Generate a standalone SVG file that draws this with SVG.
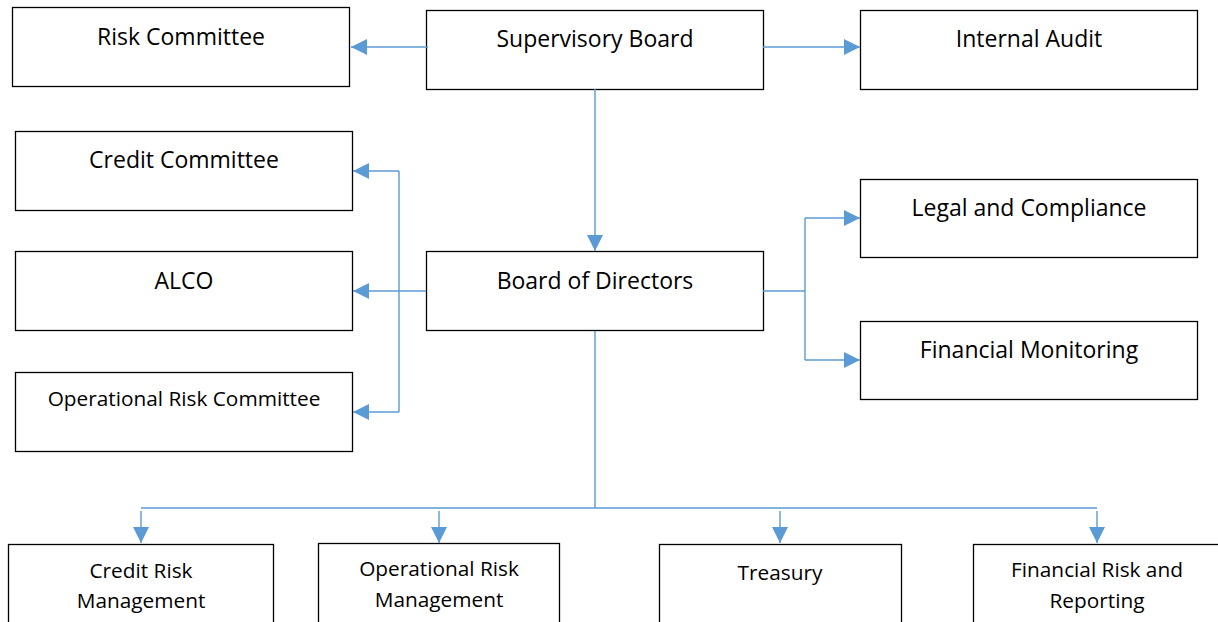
<svg xmlns="http://www.w3.org/2000/svg" width="1218" height="622" viewBox="0 0 1218 622">
<style>
.box{fill:#fff;stroke:#000;stroke-width:1.3}
.t{font-family:"Open Sans","Liberation Sans",sans-serif;font-size:23px;fill:#000;text-anchor:middle}
.s{font-size:20.8px}
.c{fill:none;stroke:#5B9BD5;stroke-width:1.4}
</style>
<defs>
<marker id="a" viewBox="0 0 16 16" refX="16" refY="8" markerWidth="16" markerHeight="16" markerUnits="userSpaceOnUse" orient="auto">
<path d="M0,0 L16,8 L0,16 Z" fill="#5B9BD5"/>
</marker>
</defs>
<rect width="1218" height="622" fill="#fff"/>
<g id="risk-committee"><rect class="box" x="12.5" y="7.5" width="337" height="79"/><text class="t" x="181" y="45">Risk Committee</text></g>
<g id="supervisory-board"><rect class="box" x="426.5" y="10.5" width="337" height="79"/><text class="t" x="595" y="47">Supervisory Board</text></g>
<g id="internal-audit"><rect class="box" x="860.5" y="10.5" width="337" height="79"/><text class="t" x="1029" y="47">Internal Audit</text></g>
<g id="credit-committee"><rect class="box" x="15.5" y="131.5" width="337" height="79"/><text class="t" x="184" y="168">Credit Committee</text></g>
<g id="alco"><rect class="box" x="15.5" y="251.5" width="337" height="79"/><text class="t" x="184" y="289">ALCO</text></g>
<g id="operational-risk-committee"><rect class="box" x="15.5" y="372.5" width="337" height="79"/><text class="t s" x="184" y="406">Operational Risk Committee</text></g>
<g id="board-of-directors"><rect class="box" x="426.5" y="251.5" width="337" height="79"/><text class="t" x="595" y="289">Board of Directors</text></g>
<g id="legal-and-compliance"><rect class="box" x="860.5" y="179.5" width="337" height="78"/><text class="t" x="1029" y="216">Legal and Compliance</text></g>
<g id="financial-monitoring"><rect class="box" x="860.5" y="321.5" width="337" height="78"/><text class="t" x="1029" y="358">Financial Monitoring</text></g>
<g id="credit-risk-management"><rect class="box" x="8.5" y="544.5" width="265" height="90"/><text class="t s" x="141" y="578">Credit Risk</text><text class="t s" x="141" y="608">Management</text></g>
<g id="operational-risk-management"><rect class="box" x="318.5" y="543.5" width="241" height="90"/><text class="t s" x="439" y="576">Operational Risk</text><text class="t s" x="439" y="607">Management</text></g>
<g id="treasury"><rect class="box" x="659.5" y="544.5" width="242" height="90"/><text class="t s" x="780" y="580">Treasury</text></g>
<g id="financial-risk-and-reporting"><rect class="box" x="973.5" y="544.5" width="250" height="90"/><text class="t s" x="1097" y="577">Financial Risk and</text><text class="t s" x="1097" y="608">Reporting</text></g>
<g id="connectors">
<path class="c" d="M428,47 H351" marker-end="url(#a)"/>
<path class="c" d="M763,47 H860" marker-end="url(#a)"/>
<path class="c" d="M595,89 V251" marker-end="url(#a)"/>
<path class="c" d="M426,291 H353" marker-end="url(#a)"/>
<path class="c" d="M399,171 V412"/>
<path class="c" d="M399,171 H353" marker-end="url(#a)"/>
<path class="c" d="M399,412 H353" marker-end="url(#a)"/>
<path class="c" d="M763,291 H805"/>
<path class="c" d="M805,218 V360"/>
<path class="c" d="M805,218 H860" marker-end="url(#a)"/>
<path class="c" d="M805,360 H860" marker-end="url(#a)"/>
<path class="c" d="M595,331 V508 M141,508 H1097"/>
<path class="c" d="M141,511 V543" marker-end="url(#a)"/>
<path class="c" d="M439,511 V543" marker-end="url(#a)"/>
<path class="c" d="M780,511 V543" marker-end="url(#a)"/>
<path class="c" d="M1097,511 V543" marker-end="url(#a)"/>
</g>
</svg>
